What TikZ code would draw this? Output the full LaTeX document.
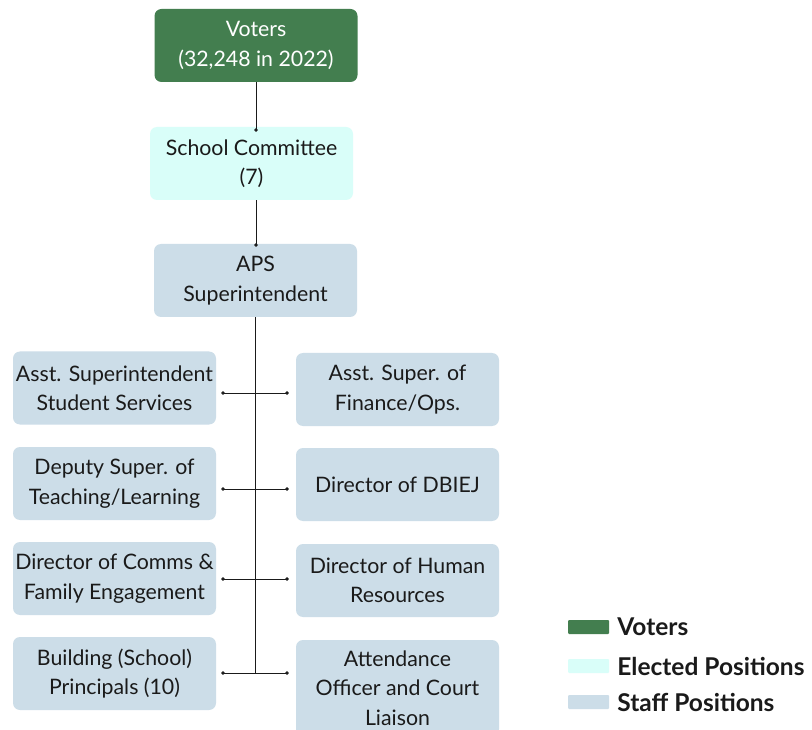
\documentclass[tikz,border=0pt]{standalone}
\usepackage{fontspec}
\setmainfont{Lato}
\usetikzlibrary{positioning,arrows.meta}
\definecolor{voterGreen}{HTML}{437E4F}
\definecolor{electLite}{HTML}{D9FEF9}
\definecolor{staffLite}{HTML}{CCDDE8}
\definecolor{ink}{HTML}{1A1A1A}

\begin{document}
\begin{tikzpicture}[x=1pt,y=-1pt,
    box/.style={rounded corners=7pt,minimum width=203pt,minimum height=73pt,
                inner sep=0pt,align=center,text=ink,
                font=\fontsize{21.3}{29.5}\selectfont},
    staff/.style={box,fill=staffLite},
    link/.style={draw=ink,line width=0.6pt},
    swatch/.style={minimum width=41pt,minimum height=14pt,inner sep=0pt,
                   rounded corners=1pt},
    keytext/.style={anchor=west,inner sep=0pt,text=ink,
                    font=\fontsize{24.5}{26}\selectfont\bfseries}]
        \useasboundingbox[fill=white] (0,0) rectangle (812,730);

        % top of the chart
        \node[box,fill=voterGreen,text=white] (voters) at (256,45.5)
          {Voters\\(32,248 in 2022)};
        \node[box,fill=electLite] (committee) at (251.5,163.5)
          {School Committee\\(7)};
        \node[staff] (super) at (255.5,280.5) {APS\\Superintendent};

        % left column
        \node[staff] (l1) at (114.5,388) {Asst. Superintendent\\Student Services};
        \node[staff] (l2) at (114.5,483.5) {Deputy Super. of\\Teaching/Learning};
        \node[staff] (l3) at (114.5,578.5) {Director of Comms \&\\Family Engagement};
        \node[staff] (l4) at (114.5,673.5) {Building (School)\\Principals (10)};

        % right column
        \node[staff] (r1) at (397.5,389.5) {Asst. Super. of\\Finance/Ops.};
        \node[staff] (r2) at (397.5,484.5) {Director of DBIEJ};
        \node[staff] (r3) at (397.5,580.5) {Director of Human\\Resources};
        \node[staff,minimum height=96pt] (r4) at (397.5,688)
          {Attendance\\Officer and Court\\Liaison};

        % connectors
        \draw[link,-{Circle[length=3.5pt]}] (voters.south) -- ([yshift=-5pt]committee.north -| voters.south);
        \draw[link,-{Circle[length=3.5pt]}] (committee.south -| voters.south) -- ([yshift=-3pt]super.north -| voters.south);
        \coordinate (trunkEnd) at (super.south |- 0,673);
        \draw[link] (super.south) -- (trunkEnd);
        \foreach \l/\r/\y in {l1/r1/393,l2/r2/489,l3/r3/579,l4/r4/673}
          \draw[link,{Circle[length=3.5pt]}-{Circle[length=3.5pt]}]
            ([xshift=5pt]\l.east |- 0,\y) -- ([xshift=-7pt]\r.west |- 0,\y);

        % legend
        \node[swatch,fill=voterGreen] (keyVoters) at (588.5,627) {};
        \node[swatch,fill=electLite] (keyElect) at (588.5,666) {};
        \node[swatch,fill=staffLite] (keyStaff) at (588.5,702) {};
        \node[keytext,right=8pt of keyVoters] {Voters};
        \node[keytext,right=8pt of keyElect] {Elected Positions};
        \node[keytext,right=8pt of keyStaff] {Staff Positions};
\end{tikzpicture}
\end{document}
